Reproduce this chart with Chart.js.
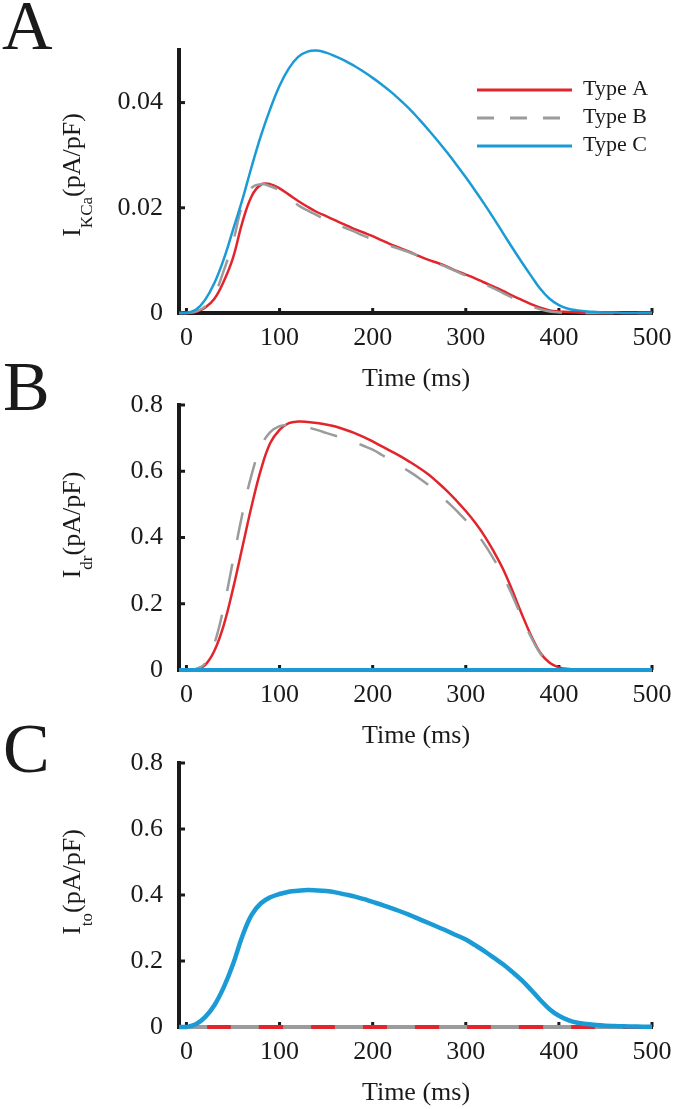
<!DOCTYPE html>
<html><head><meta charset="utf-8">
<script src="https://cdn.jsdelivr.net/npm/chart.js@4.4.1/dist/chart.umd.min.js"></script>
<style>
html,body{margin:0;padding:0;background:#fff}
body{width:673px;height:1109px;position:relative;overflow:hidden;font-family:"Liberation Serif","Times New Roman",serif;color:#1a1a1a}
canvas{position:absolute;left:0}
.panel{position:absolute;font-size:70px;line-height:70px;white-space:nowrap}
.xt{position:absolute;font-size:26px;line-height:26px;white-space:nowrap;transform:translateX(-50%)}
.yt{position:absolute;font-size:26px;line-height:26px;white-space:nowrap;transform:translate(-50%,-50%) rotate(-90deg)}
.sub{font-size:17px;position:relative;top:12px}
</style></head><body>
<canvas id="cA" width="673" height="355" style="top:0px"></canvas>
<canvas id="cB" width="673" height="360" style="top:355px"></canvas>
<canvas id="cC" width="673" height="394" style="top:715px"></canvas>

<div class="panel" style="left:2px;top:-9px">A</div>
<div class="panel" style="left:3px;top:352px">B</div>
<div class="panel" style="left:3px;top:714px">C</div>

<div class="yt" style="left:73px;top:175px">I<span class="sub">KCa</span>(pA/pF)</div>
<div class="yt" style="left:73px;top:525px">I<span class="sub">dr</span>(pA/pF)</div>
<div class="yt" style="left:73px;top:882px">I<span class="sub">to</span>(pA/pF)</div>

<div class="xt" style="left:416px;top:365px">Time (ms)</div>
<div class="xt" style="left:416px;top:722px">Time (ms)</div>
<div class="xt" style="left:416px;top:1079px">Time (ms)</div>

<script>
// ---- data ----
const timeMs = [-8,
  0, 10, 20, 30, 40, 50, 60, 70, 80, 90,
  100, 110, 120, 130, 140, 150, 160, 170, 180, 190,
  200, 210, 220, 230, 240, 250, 260, 270, 280, 290,
  300, 310, 320, 330, 340, 350, 360, 370, 380, 390,
  400, 410, 420, 430, 440, 450, 460, 470, 480, 490,
  500];

const seriesNames = ['Type A', 'Type B', 'Type C'];

const kcaTypeA = [0,
  0, 0.0002, 0.001, 0.0027, 0.006, 0.0105, 0.0172, 0.0222, 0.0244, 0.0245,
  0.0237, 0.0225, 0.0213, 0.0202, 0.0192, 0.0184, 0.0176, 0.0168, 0.016, 0.0153,
  0.0146, 0.0138, 0.013, 0.0123, 0.0116, 0.0108, 0.0101, 0.0095, 0.0088, 0.008,
  0.0073, 0.0066, 0.0058, 0.005, 0.0042, 0.0033, 0.0025, 0.0017, 0.001, 0.0005,
  0.0003, 0.0002, 0.0001, 0, 0, 0, 0, 0, 0, 0,
  0];
const kcaTypeB = [0,
  0, 0.0003, 0.0012, 0.0035, 0.008, 0.0135, 0.0205, 0.0238, 0.0245, 0.0241,
  0.0233, 0.0219, 0.0205, 0.0195, 0.0186, 0.0177, 0.0169, 0.0162, 0.0155, 0.0147,
  0.014, 0.0133, 0.0127, 0.0121, 0.0115, 0.0108, 0.0101, 0.0094, 0.0087, 0.0079,
  0.0071, 0.0063, 0.0055, 0.0047, 0.0038, 0.0029, 0.002, 0.0013, 0.0007, 0.0003,
  0.0001, 0, 0, 0, 0, 0, 0, 0, 0, 0,
  0];
const kcaTypeC = [0,
  0, 0.0006, 0.0025, 0.0057, 0.0102, 0.0158, 0.0215, 0.0278, 0.0337, 0.0388,
  0.0432, 0.0465, 0.0487, 0.0497, 0.0499, 0.0495, 0.0488, 0.048, 0.047, 0.0459,
  0.0447, 0.0434, 0.042, 0.0404, 0.0387, 0.0368, 0.0348, 0.0327, 0.0305, 0.0282,
  0.0258, 0.0233, 0.0207, 0.018, 0.0152, 0.0124, 0.0097, 0.0071, 0.0046, 0.0027,
  0.0015, 0.0008, 0.0005, 0.0003, 0.0002, 0.0001, 0.0001, 0, 0, 0,
  0];

const idrTypeA = [0,
  0, 0.002, 0.015, 0.058, 0.135, 0.245, 0.37, 0.495, 0.605, 0.685,
  0.725, 0.745, 0.75, 0.749, 0.746, 0.741, 0.735, 0.726, 0.716, 0.704,
  0.69, 0.675, 0.66, 0.645, 0.628, 0.61, 0.59, 0.566, 0.54, 0.511,
  0.48, 0.445, 0.405, 0.358, 0.305, 0.24, 0.17, 0.105, 0.052, 0.022,
  0.008, 0.003, 0.001, 0, 0, 0, 0, 0, 0, 0,
  0];
const idrTypeB = [0,
  0, 0.003, 0.02, 0.08, 0.19, 0.33, 0.47, 0.59, 0.675, 0.718,
  0.736, 0.74, 0.737, 0.732, 0.725, 0.716, 0.707, 0.698, 0.688, 0.677,
  0.665, 0.649, 0.632, 0.615, 0.598, 0.579, 0.558, 0.534, 0.508, 0.481,
  0.452, 0.418, 0.38, 0.335, 0.285, 0.225, 0.16, 0.1, 0.05, 0.02,
  0.007, 0.003, 0.001, 0, 0, 0, 0, 0, 0, 0,
  0];
const idrTypeC = [0,
  0, 0, 0, 0, 0, 0, 0, 0, 0, 0,
  0, 0, 0, 0, 0, 0, 0, 0, 0, 0,
  0, 0, 0, 0, 0, 0, 0, 0, 0, 0,
  0, 0, 0, 0, 0, 0, 0, 0, 0, 0,
  0, 0, 0, 0, 0, 0, 0, 0, 0, 0,
  0];

const itoTypeA = [0,
  0, 0, 0, 0, 0, 0, 0, 0, 0, 0,
  0, 0, 0, 0, 0, 0, 0, 0, 0, 0,
  0, 0, 0, 0, 0, 0, 0, 0, 0, 0,
  0, 0, 0, 0, 0, 0, 0, 0, 0, 0,
  0, 0, 0, 0, 0, 0, 0, 0, 0, 0,
  0];
const itoTypeB = [0,
  0, 0, 0, 0, 0, 0, 0, 0, 0, 0,
  0, 0, 0, 0, 0, 0, 0, 0, 0, 0,
  0, 0, 0, 0, 0, 0, 0, 0, 0, 0,
  0, 0, 0, 0, 0, 0, 0, 0, 0, 0,
  0, 0, 0, 0, 0, 0, 0, 0, 0, 0,
  0];
const itoTypeC = [0,
  0, 0.008, 0.03, 0.066, 0.12, 0.19, 0.275, 0.34, 0.375, 0.393,
  0.403, 0.41, 0.413, 0.415, 0.414, 0.412, 0.408, 0.402, 0.396, 0.388,
  0.379, 0.37, 0.36, 0.35, 0.339, 0.327, 0.315, 0.303, 0.291, 0.278,
  0.265, 0.248, 0.23, 0.21, 0.19, 0.167, 0.142, 0.113, 0.082, 0.054,
  0.034, 0.021, 0.013, 0.009, 0.006, 0.004, 0.003, 0.002, 0.0015, 0.001,
  0.001];

const xTicks = [0, 100, 200, 300, 400, 500];
const xTickLabels = ['0', '100', '200', '300', '400', '500'];
const kcaTicks = [0, 0.02, 0.04];
const kcaTickLabels = ['0', '0.02', '0.04'];
const curTicks = [0, 0.2, 0.4, 0.6, 0.8];
const curTickLabels = ['0', '0.2', '0.4', '0.6', '0.8'];

// ---- styles ----
const RED = '#e2252c', GRAY = '#9b9b9b', BLUE = '#1b9bd5', INK = '#1a1a1a';
const DASH = [28, 24];
const FONT = 'Liberation Serif';

function series(label, values, color, width, dash, order) {
  return {
    label, data: timeMs.map((t, i) => ({x: t, y: values[i]})),
    borderColor: color, backgroundColor: color, borderWidth: width,
    borderDash: dash, pointRadius: 0, fill: false,
    tension: 0.4, clip: false, order
  };
}

const innerTicks = {
  id: 'innerTicks',
  beforeDatasetsDraw(chart) {
    const {ctx, chartArea, scales: {x, y}} = chart;
    ctx.save();
    ctx.strokeStyle = INK; ctx.lineWidth = 3;
    y.ticks.forEach(t => {
      const py = y.getPixelForValue(t.value);
      ctx.beginPath(); ctx.moveTo(chartArea.left, py); ctx.lineTo(chartArea.left + 6, py); ctx.stroke();
    });
    x.ticks.forEach(t => {
      const px = x.getPixelForValue(t.value);
      ctx.beginPath(); ctx.moveTo(px, chartArea.bottom); ctx.lineTo(px, chartArea.bottom - 5); ctx.stroke();
    });
    ctx.restore();
  }
};

const legendBox = {
  id: 'legendBox',
  afterDatasetsDraw(chart) {
    const ctx = chart.ctx;
    const rows = [90, 118, 146];
    ctx.save();
    chart.data.datasets.forEach((ds, i) => {
      const y = rows[i];
      ctx.strokeStyle = ds.borderColor; ctx.lineWidth = 3;
      ctx.setLineDash(ds.borderDash.length ? [17, 16] : []);
      ctx.beginPath(); ctx.moveTo(477, y); ctx.lineTo(572, y); ctx.stroke();
      ctx.setLineDash([]);
      ctx.fillStyle = INK;
      ctx.font = '22px "' + FONT + '"';
      ctx.textBaseline = 'middle'; ctx.textAlign = 'left';
      ctx.fillText(ds.label, 583, y - 1);
    });
    ctx.restore();
  }
};

function makeChart(id, datasets, yMax, yTicks, yLabels, T, H, plotTop, plotBottom, plugins) {
  return new Chart(document.getElementById(id), {
    type: 'line',
    data: {datasets},
    options: {
      responsive: false, animation: false, devicePixelRatio: 1,
      layout: {padding: {top: plotTop - T, right: 21, left: 0, bottom: 0}},
      plugins: {legend: {display: false}, tooltip: {enabled: false}},
      scales: {
        x: {
          type: 'linear', min: -8, max: 500,
          afterBuildTicks: s => { s.ticks = xTicks.map(v => ({value: v})); },
          afterFit: s => { s.height = H - (plotBottom - T); s.paddingLeft = 0; s.paddingRight = 0; },
          grid: {display: false, drawTicks: false},
          border: {display: true, color: INK, width: 4},
          ticks: {autoSkip: false, maxRotation: 0, padding: 10, color: INK,
                  font: {family: FONT, size: 26, lineHeight: 1.2},
                  callback: (v, i) => xTickLabels[i]}
        },
        y: {
          type: 'linear', min: 0, max: yMax,
          afterBuildTicks: s => { s.ticks = yTicks.map(v => ({value: v})); },
          afterFit: s => { s.width = 179; },
          grid: {display: false, drawTicks: false},
          border: {display: true, color: INK, width: 4},
          ticks: {autoSkip: false, padding: 16, color: INK,
                  font: {family: FONT, size: 26, lineHeight: 1.2},
                  callback: (v, i) => yLabels[i]}
        }
      }
    },
    plugins
  });
}

makeChart('cA', [
  series(seriesNames[0], kcaTypeA, RED, 2.5, [], 2),
  series(seriesNames[1], kcaTypeB, GRAY, 2.5, DASH, 1),
  series(seriesNames[2], kcaTypeC, BLUE, 2.5, [], 0)
], 0.05, kcaTicks, kcaTickLabels, 0, 355, 50, 313, [innerTicks, legendBox]);

makeChart('cB', [
  series(seriesNames[0], idrTypeA, RED, 2.5, [], 2),
  series(seriesNames[1], idrTypeB, GRAY, 2.5, DASH, 1),
  series(seriesNames[2], idrTypeC, BLUE, 4, [], 0)
], 0.8, curTicks, curTickLabels, 355, 360, 405, 670, [innerTicks]);

makeChart('cC', [
  series(seriesNames[0], itoTypeA, RED, 4, [], 2),
  series(seriesNames[1], itoTypeB, GRAY, 4, DASH, 1),
  series(seriesNames[2], itoTypeC, BLUE, 4.5, [], 0)
], 0.8, curTicks, curTickLabels, 715, 394, 763, 1027, [innerTicks]);
</script>
</body></html>
